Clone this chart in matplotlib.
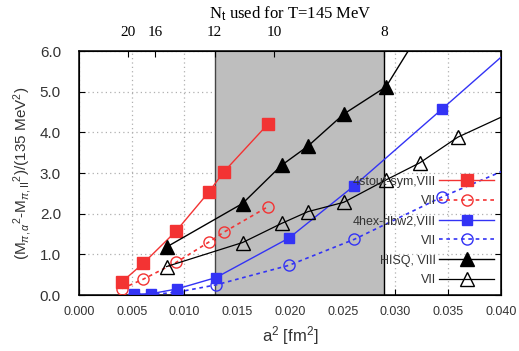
import numpy as np
import matplotlib
matplotlib.use("Agg")
import matplotlib.pyplot as plt

plt.rcParams['font.family'] = ['Liberation Sans', 'DejaVu Sans']
plt.rcParams['mathtext.fontset'] = 'custom'
plt.rcParams['mathtext.rm'] = 'Liberation Sans'
plt.rcParams['mathtext.it'] = 'Liberation Sans:italic'
plt.rcParams['mathtext.sf'] = 'Liberation Sans'

# data (a^2 in fm^2)
a2_stout = [0.0041, 0.0061, 0.0092, 0.0123, 0.0137, 0.0179]
stout_VIII = [0.33, 0.78, 1.57, 2.53, 3.02, 4.20]
stout_VII = [0.16, 0.39, 0.80, 1.30, 1.54, 2.17]

a2_hex = [0.0052, 0.0068, 0.0093, 0.0130, 0.0199, 0.0261, 0.0344, 0.0465]
hex_VIII = [0.02, 0.03, 0.15, 0.43, 1.40, 2.69, 4.57, 7.33]
hex_VII = [0.00, 0.01, 0.07, 0.25, 0.73, 1.37, 2.41, 3.75]

a2_hisq = [0.0083, 0.0155, 0.0192, 0.0217, 0.0251, 0.0291, 0.0323, 0.0359, 0.0465]
hisq_VIII = [1.18, 2.25, 3.19, 3.66, 4.45, 5.12, 6.46, 8.0, 11.0]
hisq_VII = [0.70, 1.29, 1.76, 2.05, 2.28, 2.83, 3.25, 3.88, 5.15]

nt_ticks = [20, 16, 12, 10, 8]
T = 145.0      # MeV
hbarc = 197.327  # MeV fm

def a2_of_nt(nt):
    return (hbarc / (nt * T)) ** 2

red = '#f33333'
blue = '#3333f5'

fig = plt.figure(figsize=(5.19, 3.51), dpi=100)
ax = fig.add_axes([0.1522, 0.1595, 0.8131, 0.6952])

ax.axvspan(a2_of_nt(12), a2_of_nt(8), color='#bebebe', zorder=1, lw=0)
ax.axvline(a2_of_nt(12), color='#444444', lw=1.0, zorder=1.5)
ax.axvline(a2_of_nt(8), color='black', lw=1.0, zorder=1.5)

dot = (0, (2.2, 2.2))
ax.plot(a2_stout, stout_VIII, color=red, marker='s', ms=8.5, lw=1.0,
        label='4stout-sym,VIII', zorder=3)
ax.plot(a2_stout, stout_VII, color=red, marker='o', ms=8, mfc='none', mew=1.0,
        lw=1.2, ls=dot, label='VII', zorder=3)
ax.plot(a2_hex, hex_VIII, color=blue, marker='s', ms=7.5, lw=1.0,
        label='4hex-dbw2,VIII', zorder=3)
ax.plot(a2_hex, hex_VII, color=blue, marker='o', ms=8, mfc='none', mew=1.0,
        lw=1.2, ls=dot, label='VII', zorder=3)
ax.plot(a2_hisq, hisq_VIII, color='black', marker='^', ms=9.5, lw=1.0,
        label='HISQ, VIII', zorder=3)
ax.plot(a2_hisq, hisq_VII, color='black', marker='^', ms=9.5, mfc='none', mew=1.0,
        lw=0.9, label='VII', zorder=3)

ax.set_xlim(0, 0.04)
ax.set_ylim(0, 6.0)
ax.set_xticks(np.arange(0, 0.0401, 0.005))
ax.set_xticklabels(['%.3f' % v for v in np.arange(0, 0.0401, 0.005)])
ax.set_yticks(np.arange(0, 6.01, 1.0))
ax.set_yticklabels(['%.1f' % v for v in np.arange(0, 6.01, 1.0)])
ax.set_axisbelow(True)
ax.grid(True, color='#b0b0b0', ls=(0, (1, 2.5)), lw=0.9, zorder=0.5)

ax.tick_params(axis='x', direction='in', labelsize=9, labelcolor='#333333',
               length=4, pad=8, top=False)
ax.tick_params(axis='y', direction='in', labelsize=11, labelcolor='#333333',
               length=4, right=True, pad=13)
for s in ax.spines.values():
    s.set_linewidth(1.1)

ax.set_xlabel(r'a$^2$ [fm$^2$]', fontsize=12, color='#333333', labelpad=4)
ax.set_ylabel(r'(M$_{\pi,\alpha}$$^{2}$-M$_{\pi,\mathrm{II}}$$^{2}$)/(135 MeV$^2$)',
              fontsize=11, color='#333333', labelpad=4)

# top axis: N_t used for T=145 MeV
ax2 = ax.twiny()
ax2.set_xlim(ax.get_xlim())
ax2.set_xticks([a2_of_nt(n) for n in nt_ticks])
ax2.set_xticklabels([str(n) for n in nt_ticks], family='Liberation Serif', fontsize=11)
ax2.tick_params(axis='x', direction='in', length=4, pad=9)
ax2.set_xlabel(r'N$_\mathrm{t}$ used for T=145 MeV', family='Liberation Serif',
               fontsize=12, labelpad=5)

leg = ax.legend(loc='lower right', bbox_to_anchor=(1.005, 0.0), frameon=False,
                markerfirst=False, fontsize=9, handlelength=4.4, labelspacing=0.62,
                handletextpad=0.3, borderaxespad=0.3)
for t in leg.get_texts():
    t.set_color('#333333')
leg.set_zorder(5)

fig.savefig('out.png', dpi=100)
